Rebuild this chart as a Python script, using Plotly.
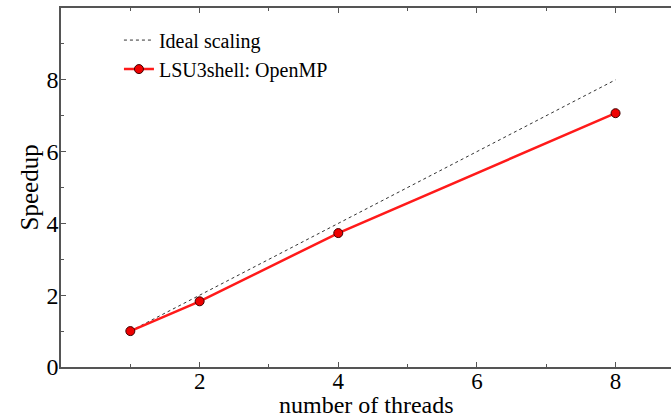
import plotly.graph_objects as go

threads = [1, 2, 4, 8]
ideal = [1, 2, 4, 8]
openmp = [1.0, 1.83, 3.73, 7.07]

x_ticks = [2, 4, 6, 8]
y_ticks = [0, 2, 4, 6, 8]

FONT = "Liberation Serif, Times New Roman, serif"
AXC = "#555555"

fig = go.Figure()
fig.add_trace(go.Scatter(
    x=threads, y=ideal, mode="lines", name="Ideal scaling",
    line=dict(color="#333333", width=1, dash="dot"),
))
fig.add_trace(go.Scatter(
    x=threads, y=openmp, mode="lines+markers", name="LSU3shell: OpenMP",
    line=dict(color="#ff1a1a", width=2.5),
    marker=dict(symbol="circle", size=9, color="#ee0000",
                line=dict(color="#400000", width=1)),
))

fig.update_layout(
    width=671, height=417,
    margin=dict(l=61, r=0, t=8, b=50),
    paper_bgcolor="white", plot_bgcolor="white",
    font=dict(family=FONT, size=24, color="black"),
    showlegend=True,
    legend=dict(x=0.095, y=0.965, xanchor="left", yanchor="top",
                font=dict(family=FONT, size=20, color="black"),
                bgcolor="rgba(0,0,0,0)", tracegroupgap=0, itemwidth=30),
    xaxis=dict(range=[0, 8.8], tickvals=x_ticks, ticks="inside", ticklen=5,
               tickcolor=AXC, showline=True, linecolor=AXC, linewidth=1.5,
               mirror="ticks", showgrid=False, zeroline=False,
               tickfont=dict(family=FONT, size=23, color="black"),
               ticklabelstandoff=-7,
               minor=dict(tickvals=[1, 3, 5, 7], ticks="inside", ticklen=3, tickcolor=AXC),
               automargin=False),
    yaxis=dict(range=[0, 10], tickvals=y_ticks, ticks="inside", ticklen=5,
               tickcolor=AXC, showline=True, linecolor=AXC, linewidth=1.5,
               showgrid=False, zeroline=False,
               tickfont=dict(family=FONT, size=24, color="black"),
               ticklabelstandoff=-4,
               minor=dict(tickvals=[1, 3, 5, 7, 9], ticks="inside", ticklen=3, tickcolor=AXC),
               automargin=False),
    annotations=[
        dict(text="number of threads", x=0.5, y=-0.106, xref="paper", yref="paper",
             xanchor="center", yanchor="middle", showarrow=False,
             font=dict(family=FONT, size=24, color="black")),
        dict(text="Speedup", x=-0.051, y=0.5, xref="paper", yref="paper",
             xanchor="center", yanchor="middle", showarrow=False, textangle=-90,
             font=dict(family=FONT, size=25, color="black")),
    ],
)

fig.write_html("out.html")
